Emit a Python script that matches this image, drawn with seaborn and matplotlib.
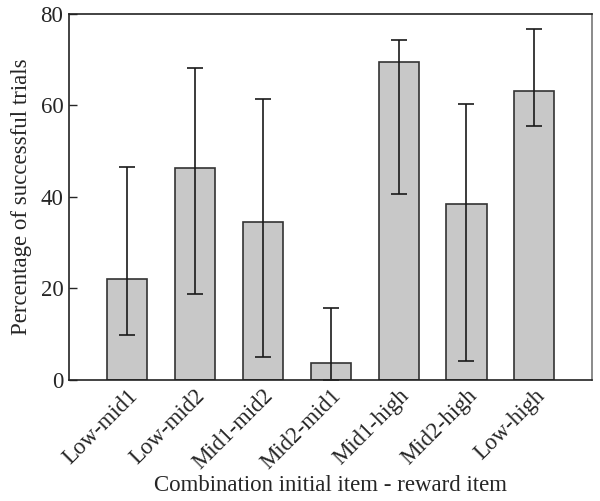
import numpy as np
import pandas as pd
import seaborn as sns
import matplotlib.pyplot as plt

combos = ["Low-mid1", "Low-mid2", "Mid1-mid2", "Mid2-mid1", "Mid1-high", "Mid2-high", "Low-high"]
pct_success = [22.0, 46.3, 34.5, 3.6, 69.4, 38.5, 63.2]
ci_low = [9.8, 18.7, 4.9, 0.0, 40.6, 4.2, 55.5]
ci_high = [46.6, 68.1, 61.4, 15.6, 74.3, 60.3, 76.7]

df = pd.DataFrame({"combo": combos, "pct": pct_success})

sns.set_style("ticks")
plt.rcParams["font.family"] = ["Liberation Serif", "DejaVu Serif"]

fig, ax = plt.subplots(figsize=(6, 5.01), dpi=100)
sns.barplot(x="combo", y="pct", data=df, color="#c8c8c8", saturation=1,
            width=0.59, edgecolor="#333333", linewidth=1.2, errorbar=None, ax=ax)

yerr = np.array([np.array(pct_success) - np.array(ci_low),
                 np.array(ci_high) - np.array(pct_success)])
ax.errorbar(np.arange(len(combos)), pct_success, yerr=yerr, fmt="none",
            ecolor="#1a1a1a", elinewidth=1.2, capsize=5.5, capthick=1.2)

ax.set_xlim(-0.85, 6.85)
ax.set_ylim(0, 80)
ax.set_yticks([0, 20, 40, 60, 80])
ax.tick_params(axis="y", direction="in", length=6, width=1, labelsize=16.5, pad=4)
ax.tick_params(axis="x", length=0, labelsize=16.5, pad=4)
plt.setp(ax.get_xticklabels(), rotation=45, ha="right", rotation_mode="anchor")
for s in ax.spines.values():
    s.set_linewidth(1.2)
    s.set_color("#222222")
ax.spines["right"].set_color("#777777")

ax.set_ylabel("Percentage of successful trials", fontsize=16.5, labelpad=6)
ax.set_xlabel("Combination initial item - reward item", fontsize=16.5, labelpad=1)

fig.subplots_adjust(left=0.115, right=0.987, top=0.972, bottom=0.242)
fig.savefig("out.png", dpi=100)
